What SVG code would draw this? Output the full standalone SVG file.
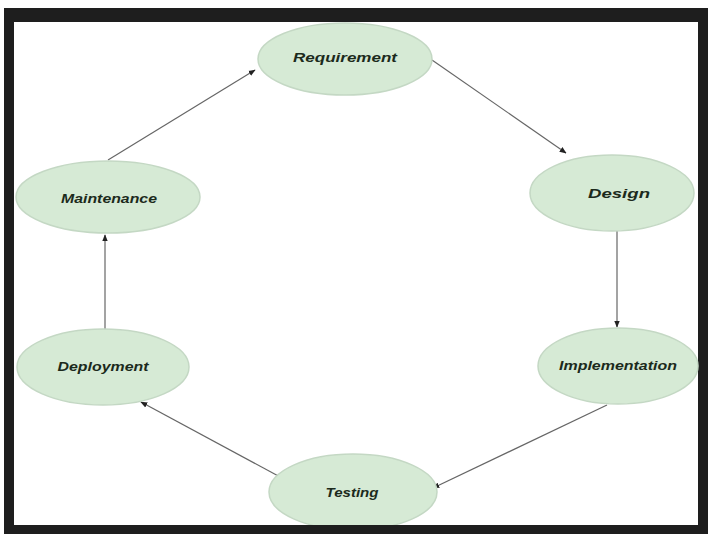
<svg xmlns="http://www.w3.org/2000/svg" width="708" height="534" viewBox="0 0 708 534">
  <style>
    .node ellipse { fill: #d6ead5; stroke: #c4d8c4; stroke-width: 1.5; }
    .node text { font-family: "Liberation Sans", Arial, sans-serif; font-size: 13px; font-weight: bold; font-style: italic; fill: #1c2a1c; text-anchor: middle; dominant-baseline: central; }
    .edge { stroke: #666; stroke-width: 1.2; fill: none; marker-end: url(#arrow); }
  </style>
  <defs>
    <marker id="arrow" viewBox="0 0 10 10" refX="9" refY="5" markerWidth="7" markerHeight="7" orient="auto" markerUnits="userSpaceOnUse">
      <path d="M0,1 L10,5 L0,9 z" fill="#222"/>
    </marker>
  </defs>

  <!-- outer frame -->
  <rect x="0" y="0" width="708" height="534" fill="#ffffff"/>
  <rect x="4" y="8" width="704" height="526" fill="#1e1e1e"/>
  <rect x="14" y="22" width="684" height="503" fill="#ffffff"/>

  <g id="connectors">
    <line class="edge" x1="432" y1="60" x2="566" y2="153"/>
    <line class="edge" x1="617" y1="231" x2="617" y2="327"/>
    <line class="edge" x1="607" y1="405" x2="433" y2="488"/>
    <line class="edge" x1="282" y1="478" x2="141" y2="402"/>
    <line class="edge" x1="105" y1="330" x2="105" y2="235"/>
    <line class="edge" x1="108" y1="160" x2="255" y2="70"/>
  </g>

  <g id="requirement" class="node">
    <ellipse cx="345" cy="59" rx="87" ry="36"/>
    <text x="345" y="57" textLength="104" lengthAdjust="spacingAndGlyphs">Requirement</text>
  </g>
  <g id="design" class="node">
    <ellipse cx="612" cy="193" rx="82" ry="38"/>
    <text x="619" y="193" textLength="62" lengthAdjust="spacingAndGlyphs">Design</text>
  </g>
  <g id="implementation" class="node">
    <ellipse cx="618" cy="366" rx="80" ry="38"/>
    <text x="618" y="365" textLength="118" lengthAdjust="spacingAndGlyphs">Implementation</text>
  </g>
  <g id="testing" class="node">
    <ellipse cx="353" cy="492" rx="84" ry="38"/>
    <text x="352" y="492" textLength="53" lengthAdjust="spacingAndGlyphs">Testing</text>
  </g>
  <g id="deployment" class="node">
    <ellipse cx="103" cy="367" rx="86" ry="38"/>
    <text x="103" y="366" textLength="91" lengthAdjust="spacingAndGlyphs">Deployment</text>
  </g>
  <g id="maintenance" class="node">
    <ellipse cx="108" cy="197" rx="92" ry="36"/>
    <text x="109" y="198" textLength="96" lengthAdjust="spacingAndGlyphs">Maintenance</text>
  </g>

  <!-- frame bands drawn over nodes that run into the border -->
  <rect x="4" y="8" width="704" height="14" fill="#1e1e1e"/>
  <rect x="4" y="525" width="704" height="9" fill="#1e1e1e"/>
</svg>
